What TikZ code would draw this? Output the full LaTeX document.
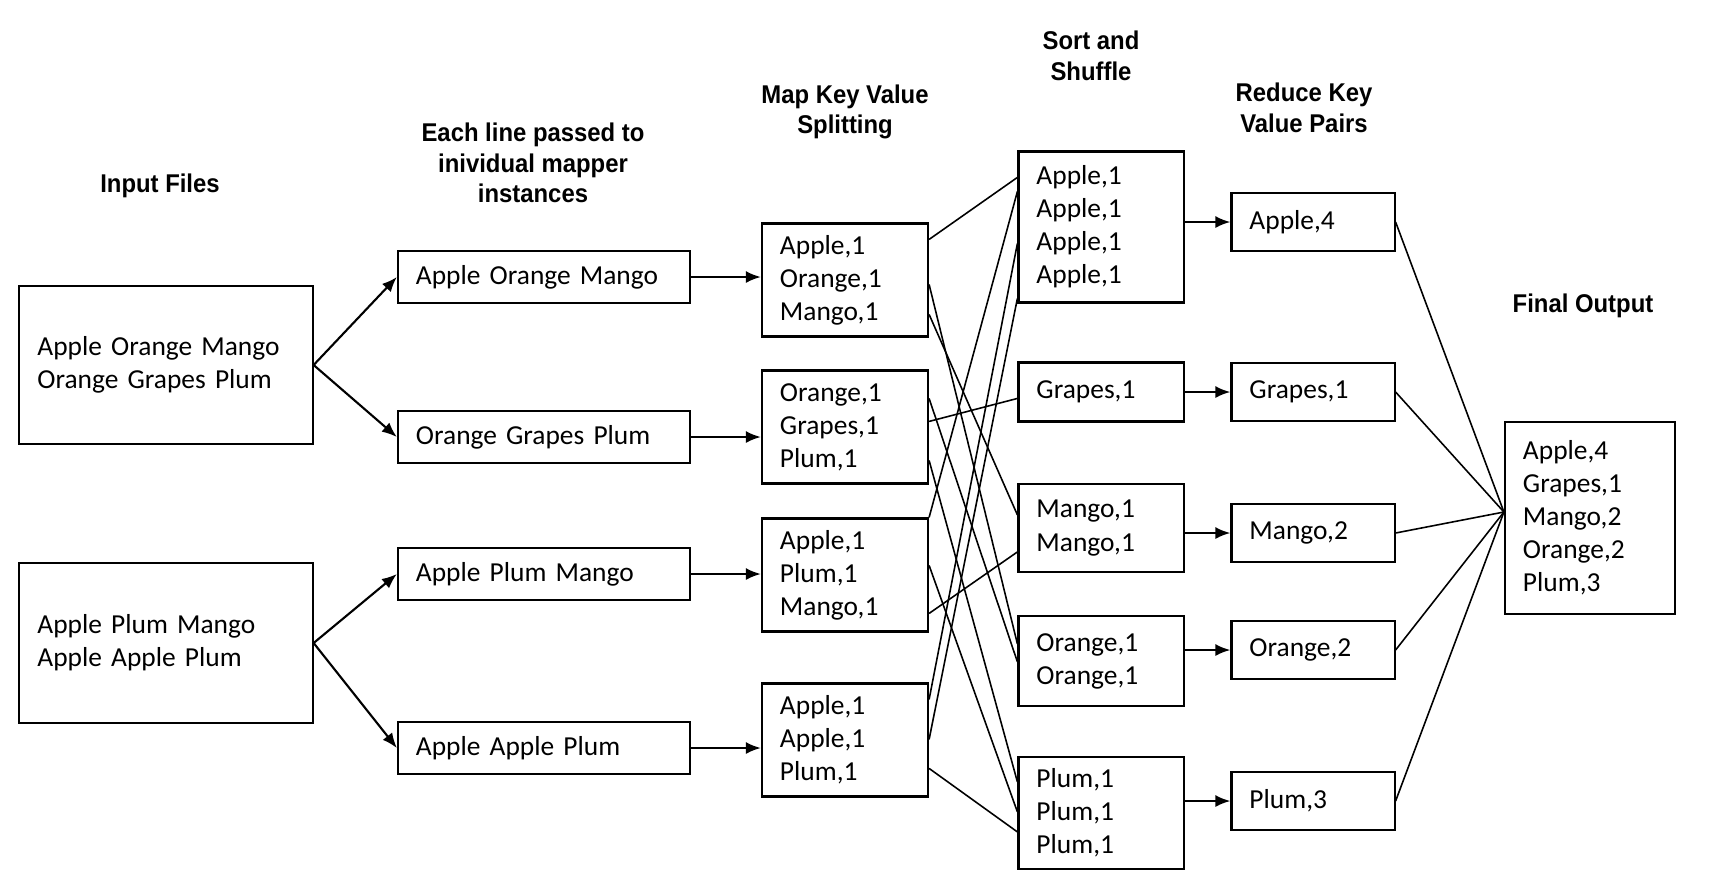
\documentclass[tikz,border=0pt]{standalone}
\usepackage{fontspec}
\setmainfont{Carlito}
\newfontfamily\headfont{Liberation Sans}[FakeStretch=0.93]
\usetikzlibrary{calc,arrows.meta}

\begin{document}
\begin{tikzpicture}[x=0.01cm, y=-0.01cm, >={Latex[length=0.15cm,width=0.12cm]},
  every box/.style={draw, line width=0.6pt, inner xsep=0.18cm, inner ysep=0pt,
    align=left, font=\fontsize{7.8}{9.4}\selectfont},
  every title/.style={align=center, font=\headfont\bfseries\fontsize{7.3}{8.65}\selectfont},
  every link/.style={line width=0.45pt}]

\useasboundingbox (0,0) rectangle (1709,878);

\foreach \t/\y/\h [count=\i] in {{Apple Orange Mango\\Orange Grapes Plum}/365/1.58cm,
                                 {Apple Plum Mango\\Apple Apple Plum}/643/1.60cm}
  \node [every box, text width=2.57cm, minimum height=\h] (input-\i) at (166,\y) {\t};

\foreach \t/\y [count=\i] in {Apple Orange Mango/277, Orange Grapes Plum/437,
                              Apple Plum Mango/574, Apple Apple Plum/748}
  \node [every box, text width=2.56cm, minimum height=0.52cm] (split-\i) at (544,\y) {\t};

\foreach \t/\y [count=\i] in {{Apple,1\\Orange,1\\Mango,1}/280, {Orange,1\\Grapes,1\\Plum,1}/427,
                              {Apple,1\\Plum,1\\Mango,1}/575, {Apple,1\\Apple,1\\Plum,1}/740}
  \node [every box, text width=1.30cm, minimum height=1.13cm] (map-\i) at (845,\y) {\t};

\foreach \m/\t/\y/\h in {apple/{Apple,1\\Apple,1\\Apple,1\\Apple,1}/227/1.51cm,
                         grapes/{Grapes,1}/392/0.59cm,
                         mango/{Mango,1\\Mango,1}/528/0.88cm,
                         orange/{Orange,1\\Orange,1}/661/0.90cm,
                         plum/{Plum,1\\Plum,1\\Plum,1}/813/1.12cm}
  \node [every box, text width=1.29cm, minimum height=\h] (sort-\m) at (1101,\y) {\t};

\foreach \m/\t/\y in {apple/{Apple,4}/222, grapes/{Grapes,1}/392, mango/{Mango,2}/533,
                      orange/{Orange,2}/650, plum/{Plum,3}/801}
  \node [every box, text width=1.27cm, minimum height=0.58cm] (red-\m) at (1313,\y) {\t};

\node [every box, text width=1.34cm, minimum height=1.92cm] (final) at (1590,518)
  {Apple,4\\Grapes,1\\Mango,2\\Orange,2\\Plum,3};

% column titles
\foreach \m/\t/\x/\y in {input/{Input Files}/160/186,
                         split/{Each line passed to\\inividual mapper\\instances}/533/163,
                         map/{Map Key Value\\Splitting}/845/112,
                         sort/{Sort and\\Shuffle}/1091/56,
                         red/{Reduce Key\\Value Pairs}/1304/108,
                         final/{Final Output}/1583/306}
  \node [every title] (title-\m) at (\x,\y) {\t};

\foreach \i/\j in {1/1,1/2,2/3,2/4}
  \draw [->, line width=0.6pt] (input-\i.east) -- (split-\j.west);

\foreach \i in {1,...,4}
  \draw [->, line width=0.6pt] (split-\i.east) -- (split-\i.east -| map-\i.west);

% shuffle
\foreach \i/\a/\m/\b in {1/17/apple/27, 1/62/orange/29, 1/92/mango/32,
                         2/29/orange/47, 2/52/grapes/37, 2/91/plum/26,
                         3/0/apple/41, 3/48/plum/56, 3/96/mango/69,
                         4/17/apple/93, 4/57/apple/148, 4/86/plum/76}
  \draw [every link] ($(map-\i.north east)+(0,\a)$) -- ($(sort-\m.north west)+(0,\b)$);

\foreach \m in {apple,grapes,mango,orange,plum}
  \draw [->, line width=0.6pt] (sort-\m.east |- red-\m) -- (red-\m);

\coordinate (fan) at ($(final.west)+(0,-6)$);
\foreach \m in {apple,grapes,mango,orange,plum}
  \draw [every link] (red-\m.east) -- (fan);

\end{tikzpicture}
\end{document}
